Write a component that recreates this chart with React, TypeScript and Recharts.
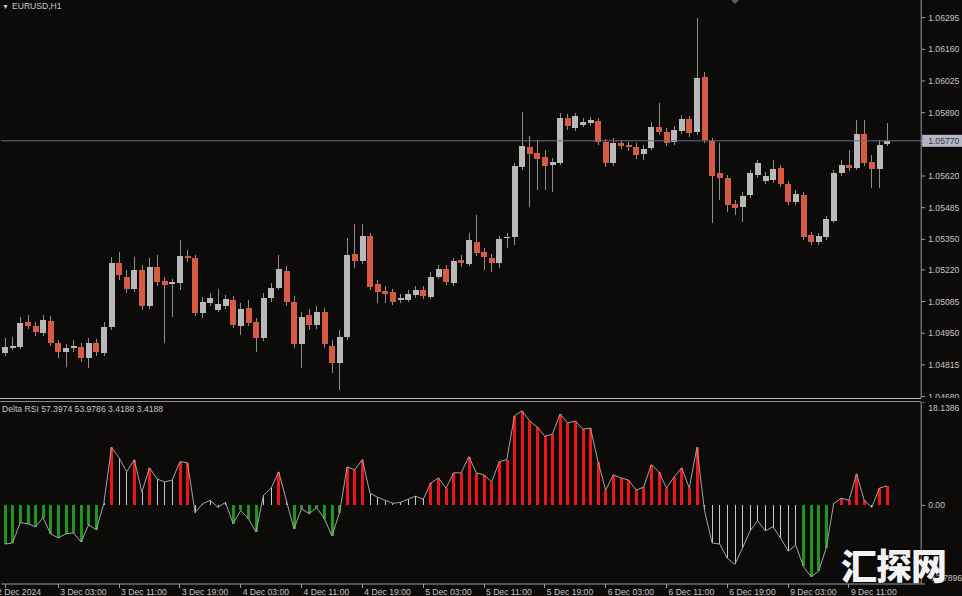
import { ComposedChart, Bar, Line, XAxis, YAxis, ReferenceLine } from 'recharts';

// EURUSD H1, 2 Dec 20:00 -> 9 Dec 16:00
const sessions: [string, number, number][] = [
  ['2 Dec', 20, 23],
  ['3 Dec', 0, 23],
  ['4 Dec', 0, 23],
  ['5 Dec', 0, 23],
  ['6 Dec', 0, 23],
  ['9 Dec', 0, 16],
];

const open = [
  1.04866, 1.04887, 1.04892, 1.04998, 1.04981, 1.04951, 1.05003, 1.04909, 1.04871, 1.04887,
  1.04892, 1.04845, 1.04909, 1.04866, 1.04977, 1.0525, 1.0519, 1.05139, 1.0522, 1.05066,
  1.05233, 1.05173, 1.0516, 1.05164, 1.05279, 1.05271, 1.05037, 1.05079, 1.05049, 1.05066,
  1.05092, 1.04981, 1.05058, 1.04998, 1.0493, 1.05101, 1.05143, 1.05216, 1.05084, 1.04905,
  1.05028, 1.04986, 1.05041, 1.04896, 1.04824, 1.04934, 1.05288, 1.05258, 1.05365, 1.0516,
  1.0513, 1.05126, 1.05092, 1.05092, 1.05113, 1.05135, 1.05105, 1.0519, 1.05224, 1.05164,
  1.05262, 1.05245, 1.05339, 1.05297, 1.05271, 1.0525, 1.05356, 1.0536, 1.05659, 1.05744,
  1.05718, 1.05701, 1.05667, 1.05676, 1.05867, 1.05825, 1.05838, 1.05846, 1.05855, 1.05765,
  1.05676, 1.05761, 1.05752, 1.05744, 1.05714, 1.0574, 1.05829, 1.05808, 1.05765, 1.05812,
  1.05863, 1.05808, 1.06042, 1.05769, 1.05633, 1.05612, 1.05501, 1.05488, 1.05539, 1.05625,
  1.05599, 1.05603, 1.05654, 1.05586, 1.0551, 1.05539, 1.05369, 1.05339, 1.0536, 1.05429,
  1.05633, 1.05667, 1.05654, 1.05799, 1.0568, 1.0565, 1.05757,
];
const high = [
  1.0493, 1.04934, 1.0502, 1.05028, 1.04998, 1.05028, 1.05024, 1.04922, 1.04905, 1.04922,
  1.04909, 1.0493, 1.04926, 1.04998, 1.05275, 1.05297, 1.0522, 1.05275, 1.05241, 1.05271,
  1.05284, 1.0519, 1.05182, 1.05348, 1.05305, 1.05284, 1.05105, 1.05122, 1.05139, 1.05113,
  1.05109, 1.05079, 1.05092, 1.05015, 1.05122, 1.05164, 1.05284, 1.05237, 1.05109, 1.05041,
  1.05054, 1.05066, 1.05058, 1.04922, 1.04964, 1.05356, 1.05416, 1.05416, 1.05377, 1.05177,
  1.05152, 1.05139, 1.05118, 1.05135, 1.05152, 1.05152, 1.05211, 1.05241, 1.05241, 1.05271,
  1.05284, 1.05377, 1.05454, 1.05314, 1.05288, 1.05365, 1.05377, 1.05676, 1.05893, 1.05791,
  1.05774, 1.05731, 1.05697, 1.05889, 1.05884, 1.05889, 1.05867, 1.05872, 1.05867, 1.05778,
  1.05782, 1.05774, 1.05765, 1.05761, 1.05752, 1.0585, 1.05931, 1.05825, 1.05833, 1.0588,
  1.05876, 1.06293, 1.06063, 1.05782, 1.05761, 1.05625, 1.05518, 1.05552, 1.05646, 1.05688,
  1.05637, 1.05688, 1.05667, 1.05599, 1.05561, 1.05552, 1.05382, 1.05377, 1.0545, 1.05646,
  1.05688, 1.05731, 1.05859, 1.05859, 1.0571, 1.05774, 1.05846,
];
const low = [
  1.04853, 1.04879, 1.04883, 1.04968, 1.04939, 1.04939, 1.04896, 1.04845, 1.04807, 1.04871,
  1.04828, 1.04802, 1.04853, 1.04853, 1.04964, 1.05177, 1.05122, 1.05126, 1.05049, 1.05054,
  1.05152, 1.04909, 1.0502, 1.05135, 1.05254, 1.05024, 1.05015, 1.05066, 1.05041, 1.05054,
  1.04973, 1.04943, 1.04981, 1.04871, 1.04917, 1.05084, 1.05135, 1.05066, 1.04887, 1.04802,
  1.04964, 1.04968, 1.04887, 1.04781, 1.04709, 1.04922, 1.05228, 1.05245, 1.05135, 1.05079,
  1.05079, 1.05071, 1.05079, 1.05084, 1.05101, 1.05096, 1.05096, 1.05182, 1.05156, 1.05152,
  1.05233, 1.05237, 1.05279, 1.0522, 1.05211, 1.05228, 1.05314, 1.05326, 1.05646, 1.05488,
  1.05561, 1.05561, 1.05552, 1.05667, 1.05816, 1.05812, 1.05829, 1.05833, 1.05752, 1.05659,
  1.05663, 1.05735, 1.05727, 1.05693, 1.05688, 1.05731, 1.05795, 1.05748, 1.05752, 1.05799,
  1.05786, 1.05795, 1.05761, 1.0542, 1.05518, 1.05467, 1.05454, 1.05424, 1.05527, 1.05612,
  1.05586, 1.0559, 1.05573, 1.05497, 1.05497, 1.05348, 1.05326, 1.05326, 1.05348, 1.0542,
  1.0562, 1.05642, 1.05646, 1.05663, 1.05569, 1.05569, 1.05748,
];
const close = [
  1.04892, 1.04896, 1.04994, 1.04981, 1.04956, 1.05007, 1.04909, 1.04871, 1.04887, 1.04896,
  1.04845, 1.04909, 1.04871, 1.04977, 1.0525, 1.05199, 1.05139, 1.0522, 1.05066, 1.05233,
  1.05169, 1.05156, 1.05169, 1.05279, 1.05271, 1.05037, 1.05084, 1.05101, 1.05075, 1.05096,
  1.04986, 1.05054, 1.04994, 1.0493, 1.05101, 1.05143, 1.05224, 1.05084, 1.04905, 1.0502,
  1.04986, 1.05041, 1.04905, 1.04824, 1.04934, 1.05284, 1.05258, 1.05365, 1.05147, 1.05126,
  1.05118, 1.05084, 1.05101, 1.05118, 1.05135, 1.05109, 1.0519, 1.05224, 1.05169, 1.05258,
  1.0525, 1.05348, 1.05292, 1.05275, 1.0525, 1.05352, 1.0536, 1.05663, 1.05748, 1.05714,
  1.05693, 1.05663, 1.0568, 1.05867, 1.05833, 1.05876, 1.0585, 1.05859, 1.05765, 1.05676,
  1.05761, 1.05748, 1.05744, 1.0571, 1.05735, 1.05829, 1.05808, 1.05761, 1.05816, 1.05863,
  1.05803, 1.06038, 1.05774, 1.0562, 1.05612, 1.05497, 1.05484, 1.05535, 1.05633, 1.05676,
  1.0562, 1.0565, 1.05586, 1.0551, 1.05544, 1.0536, 1.05339, 1.05365, 1.05437, 1.05633,
  1.05667, 1.05654, 1.05799, 1.05676, 1.0565, 1.05752, 1.0577,
];

// Delta RSI histogram values, and the colour state the indicator gives each bar
const deltaRsi = [
  -6.78, -6.6, -3.03, -3.21, -3.75, -2.14, -4.99, -5.71, -4.99, -4.82,
  -6.42, -3.39, -4.28, 0.36, 10.17, 8.38, 5.89, 8.03, 2.32, 6.6,
  4.64, 4.1, 4.46, 7.67, 7.49, -1.25, 0.3, 0.89, -0.36, 0.54,
  -3.21, -0.89, -2.32, -4.64, 1.78, 3.03, 5.89, 0.89, -4.1, -0.6,
  -1.43, -0.4, -2.32, -5.35, -1.25, 6.78, 6.24, 8.03, 2.14, 1.43,
  0.89, 0.36, 0.54, 1.07, 1.61, 1.07, 3.92, 4.82, 3.03, 5.71,
  5.71, 8.56, 5.71, 5.35, 4.1, 7.67, 8.03, 15.7, 16.59, 14.81,
  13.74, 12.13, 12.49, 16.05, 14.45, 14.81, 13.38, 13.56, 7.67, 2.68,
  5.35, 4.82, 4.46, 2.68, 3.21, 7.14, 5.89, 3.03, 4.99, 6.6,
  3.03, 10.17, -0.89, -6.6, -6.78, -9.28, -10.35, -7.49, -4.46, -2.68,
  -4.46, -3.75, -5.71, -8.03, -6.96, -10.7, -12.49, -11.59, -7.49, 0.36,
  1.25, 0.89, 5.53, 0.89, -0.36, 3.03, 3.42,
];
const deltaTone = (
  'ggggggggggggg' + 'wrwwrwrwwwrr' + 'wwwww' + 'gggg' + 'wwrw' + 'ggggggg' + 'rrr' +
  'wwwwwwww' + 'r'.repeat(36) + 'w'.repeat(13) + 'gggg' + 'w' + 'rrrr' + 'w' + 'rr'
).split('');

const priceTicks = [1.06295, 1.0616, 1.06025, 1.0589, 1.0577, 1.0562, 1.05485, 1.0535, 1.0522, 1.05085, 1.0495, 1.04815, 1.0468];
const lastPrice = 1.0577;
const deltaTicks = [18.1386, 0, -13.7896];
const timeTicks = [
  '2 Dec 20:00', '3 Dec 03:00', '3 Dec 11:00', '3 Dec 19:00', '4 Dec 03:00', '4 Dec 11:00', '4 Dec 19:00',
  '5 Dec 03:00', '5 Dec 11:00', '5 Dec 19:00', '6 Dec 03:00', '6 Dec 11:00', '6 Dec 19:00', '9 Dec 03:00', '9 Dec 11:00',
];
const timeLabels = [
  '2 Dec 2024', '3 Dec 03:00', '3 Dec 11:00', '3 Dec 19:00', '4 Dec 03:00', '4 Dec 11:00', '4 Dec 19:00',
  '5 Dec 03:00', '5 Dec 11:00', '5 Dec 19:00', '6 Dec 03:00', '6 Dec 11:00', '6 Dec 19:00', '9 Dec 03:00', '9 Dec 11:00',
];

const BG = '#0d0b0a';
const BULL = '#b9b9b9';
const BEAR = '#d65a44';
const WICK = '#8e8e8e';
const AXIS = '#9c9c9c';
const TEXT = '#c4c4c4';
const FONT = '"Liberation Sans", Arial, sans-serif';

const times = sessions.flatMap(([day, from, to]) =>
  Array.from({ length: to - from + 1 }, (_, k) => `${day} ${String(from + k).padStart(2, '0')}:00`)
);

const rows: any[] = times.map((t, i) => ({
  t,
  open: open[i],
  high: high[i],
  low: low[i],
  close: close[i],
  range: [low[i], high[i]],
  delta: deltaRsi[i],
  tone: deltaTone[i],
}));
// right shift of the terminal: empty slots after the last bar
for (let k = 0; k < 4; k++) rows.push({ t: `shift${k}` });

function Candle(props: any) {
  const { x, y, width, height, payload } = props;
  if (!payload || payload.open == null) return null;
  const { open: o, close: c, high: h, low: l } = payload;
  const k = height / (h - l);
  const at = (v: number) => y + (h - v) * k;
  const top = at(Math.max(o, c));
  const bottom = at(Math.min(o, c));
  const cx = Math.floor(x + width / 2) + 0.5;
  return (
    <g shapeRendering="crispEdges">
      <line x1={cx} x2={cx} y1={y} y2={y + height} stroke={WICK} strokeWidth={1} />
      <rect x={Math.round(x)} y={top} width={Math.round(width)} height={Math.max(1, bottom - top)} fill={c >= o ? BULL : BEAR} />
    </g>
  );
}

function DeltaBar(props: any) {
  const { x, y, width, height, payload } = props;
  if (!payload || payload.delta == null) return null;
  const top = Math.min(y, y + height);
  const h = Math.abs(height);
  const cx = x + width / 2;
  if (payload.tone === 'w') {
    const lx = Math.floor(cx) + 0.5;
    return <line x1={lx} x2={lx} y1={top} y2={top + h} stroke="#c9c9c9" strokeWidth={1} shapeRendering="crispEdges" />;
  }
  return (
    <rect x={Math.round(cx - 1.5)} y={top} width={3} height={h} fill={payload.tone === 'r' ? '#f01414' : '#1d961d'} shapeRendering="crispEdges" />
  );
}

function PriceTick(props: any) {
  const { x, y, payload } = props;
  const v = payload.value;
  if (v === lastPrice) {
    return (
      <g>
        <rect x={x - 6} y={y - 6} width={42} height={12} fill="#b3b6c4" />
        <text x={x} y={y + 3} fill="#34343f" fontSize={8.6} fontFamily={FONT}>{v.toFixed(5)}</text>
      </g>
    );
  }
  return <text x={x} y={y + 3} fill={TEXT} fontSize={8.6} fontFamily={FONT}>{v.toFixed(5)}</text>;
}

function DeltaTick(props: any) {
  const { x, y, payload, index } = props;
  const v = payload.value;
  const label = v === 0 ? '0.00' : v.toFixed(4);
  const dy = index === 0 ? 9 : index === 2 ? -3 : 3;
  return <text x={x} y={y + dy} fill={TEXT} fontSize={8.6} fontFamily={FONT}>{label}</text>;
}

function TimeTick(props: any) {
  const { x, y, payload } = props;
  const pos = timeTicks.indexOf(payload.value);
  if (pos < 0) return <g />;
  const lx = Math.floor(x) + 0.5;
  return (
    <g>
      <line x1={lx} x2={lx} y1={y} y2={y + 4} stroke={AXIS} shapeRendering="crispEdges" />
      <text x={pos === 0 ? x - 8 : x + 2} y={y + 11} fill={TEXT} fontSize={8.6} fontFamily={FONT}>{timeLabels[pos]}</text>
    </g>
  );
}

export default function App() {
  return (
    <div style={{ position: 'fixed', left: 0, top: 0, width: 962, height: 596, background: BG, overflow: 'hidden', fontFamily: FONT }}>
      <div style={{ position: 'absolute', left: 0, top: 0 }}>
        <ComposedChart width={962} height={398} data={rows} margin={{ top: 0, right: 0, bottom: 0, left: 1.2 }}>
          <XAxis dataKey="t" hide />
          <YAxis
            orientation="right"
            width={40.8}
            domain={[1.04674, 1.0637]}
            allowDataOverflow
            ticks={priceTicks}
            interval={0}
            tick={<PriceTick />}
            tickSize={4}
            tickMargin={3}
            tickLine={{ stroke: AXIS }}
            axisLine={{ stroke: AXIS }}
          />
          <ReferenceLine y={lastPrice} stroke="#6c6c8e" strokeWidth={1} />
          <Bar dataKey="range" shape={<Candle />} barSize={6} isAnimationActive={false} />
        </ComposedChart>
      </div>

      <div style={{ position: 'absolute', left: 0, top: 402 }}>
        <ComposedChart width={962} height={194} data={rows} margin={{ top: 0, right: 0, bottom: 0, left: 1.2 }}>
          <XAxis
            dataKey="t"
            interval={0}
            height={12}
            tick={<TimeTick />}
            tickSize={0}
            tickMargin={0}
            tickLine={false}
            axisLine={{ stroke: AXIS }}
          />
          <YAxis
            orientation="right"
            width={40.8}
            domain={[-13.7896, 18.1386]}
            allowDataOverflow
            ticks={deltaTicks}
            interval={0}
            tick={<DeltaTick />}
            tickSize={4}
            tickMargin={3}
            tickLine={{ stroke: AXIS }}
            axisLine={{ stroke: AXIS }}
          />
          <Bar dataKey="delta" shape={<DeltaBar />} barSize={4} isAnimationActive={false} />
          <Line dataKey="delta" type="linear" stroke="#a4a4a4" strokeWidth={1} dot={false} activeDot={false} isAnimationActive={false} />
        </ComposedChart>
      </div>

      {/* panel separator */}
      <div style={{ position: 'absolute', left: 0, top: 398, width: 921, height: 1, background: '#b8b8b8' }} />
      <div style={{ position: 'absolute', left: 0, top: 401, width: 921, height: 1, background: '#8a8a8a' }} />

      <div style={{ position: 'absolute', left: 2, top: 1, fontSize: 8.6, color: TEXT, whiteSpace: 'nowrap' }}>
        <span style={{ fontSize: 7, marginRight: 3 }}>▼</span>EURUSD,H1
      </div>
      <div style={{ position: 'absolute', left: 2, top: 404, fontSize: 8.6, color: TEXT, whiteSpace: 'nowrap' }}>
        Delta RSI 57.3974 53.9786 3.4188 3.4188
      </div>
      <div
        style={{
          position: 'absolute', left: 731, top: 0, width: 0, height: 0,
          borderLeft: '4px solid transparent', borderRight: '4px solid transparent', borderTop: '4px solid #57577c',
        }}
      />
      <div
        style={{
          position: 'absolute', left: 841, top: 546, fontSize: 36, fontWeight: 900, lineHeight: 1,
          fontFamily: '"Noto Sans CJK SC", sans-serif', color: '#f2f2f2', letterSpacing: -1,
          textShadow: '0 0 2px #000',
        }}
      >
        汇探网
      </div>
    </div>
  );
}
